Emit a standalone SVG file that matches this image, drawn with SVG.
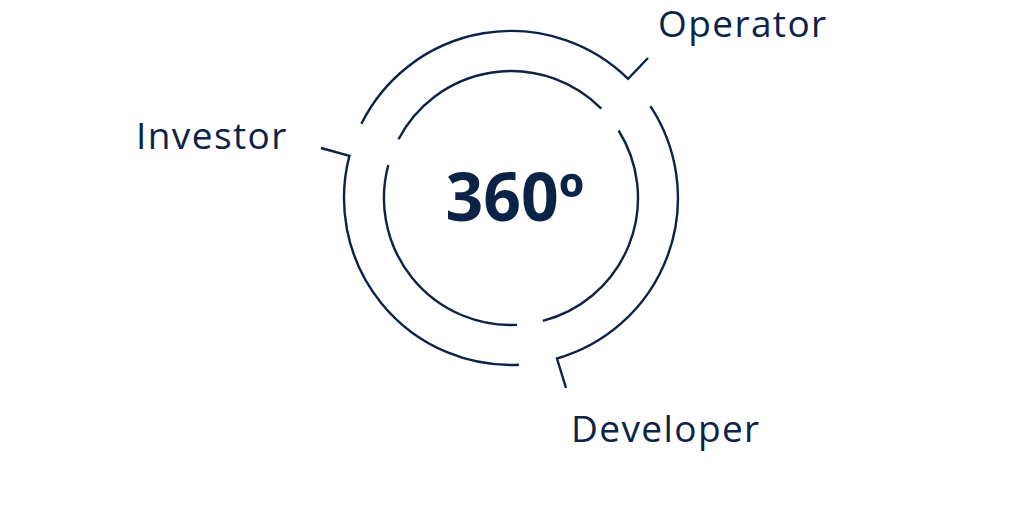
<svg xmlns="http://www.w3.org/2000/svg" width="1024" height="524" viewBox="0 0 1024 524">
<style>
.ln{fill:none;stroke:#0a2347;stroke-width:2.4;stroke-linecap:butt}
.lbl{font-family:"Open Sans","Noto Sans",sans-serif;font-size:37px;letter-spacing:1.4px;fill:#0a2347}
.big{font-family:"Open Sans","Noto Sans",sans-serif;font-size:66px;font-weight:bold;fill:#0a2347}
</style>
<rect width="1024" height="524" fill="#ffffff"/>
<g id="connectors">
<path class="ln" d="M361.4,123.8 A167,167 0 0 1 628.1,78.9 L648,58"/>
<path class="ln" d="M650.4,106.1 A167,167 0 0 1 557,358.5 L566,388"/>
<path class="ln" d="M518.9,364.8 A167,167 0 0 1 349.4,155.9 L321,148"/>
<path class="ln" d="M398.5,139.2 A127,127 0 0 1 601.3,108.7"/>
<path class="ln" d="M618.6,130.5 A127,127 0 0 1 542.8,320.9"/>
<path class="ln" d="M517,324.9 A127,127 0 0 1 388.3,165.1"/>
</g>
<g id="center"><text class="big" x="515" y="221" text-anchor="middle">360º</text></g>
<g id="operator"><text class="lbl" x="658" y="37">Operator</text></g>
<g id="investor"><text class="lbl" x="136" y="149">Investor</text></g>
<g id="developer"><text class="lbl" x="571" y="442">Developer</text></g>
</svg>
